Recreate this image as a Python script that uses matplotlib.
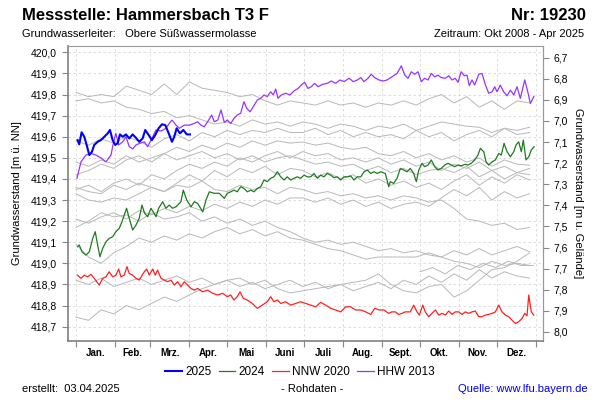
import numpy as np
import matplotlib
matplotlib.use("Agg")
import matplotlib.pyplot as plt
from matplotlib.ticker import FuncFormatter

plt.rcParams["font.family"] = ["Liberation Sans", "DejaVu Sans"]

# Geländehöhe (m ü. NN) für die rechte Achse
GOK = 426.675

months = ["Jan.", "Feb.", "Mrz.", "Apr.", "Mai", "Juni", "Juli", "Aug.", "Sept.", "Okt.", "Nov.", "Dez."]
month_start = [0, 31, 59, 90, 120, 151, 181, 212, 243, 273, 304, 334, 365]

# 2025 (Tag im Jahr, Wasserstand)
d2025 = [1.3, 2.6, 4.5, 6.6, 8.5, 10.6, 12.7, 14.5, 17.2, 19.8, 22.5, 25.2, 27.0, 29.1, 31.2, 33.1,
         34.9, 37.1, 39.7, 42.3, 45.0, 47.6, 50.2, 52.9, 55.0, 57.7, 60.3, 62.9, 65.6, 68.3, 70.9,
         73.6, 76.2, 78.0, 79.9, 82.5, 85.2, 87.9, 90.5]
v2025 = [419.584, 419.564, 419.621, 419.600, 419.561, 419.513, 419.529, 419.561, 419.576, 419.584,
         419.600, 419.616, 419.632, 419.584, 419.561, 419.569, 419.611, 419.600, 419.611, 419.592,
         419.611, 419.595, 419.576, 419.592, 419.632, 419.608, 419.584, 419.608, 419.640, 419.659,
         419.655, 419.616, 419.576, 419.600, 419.640, 419.616, 419.632, 419.611, 419.611]

# 2024
d2024 = [1.3, 2.6, 4.8, 7.9, 10.6, 13.3, 15.3, 17.2, 19.0, 21.2, 23.8, 26.4, 29.1, 31.7, 34.4, 36.5,
         38.3, 40.2, 42.3, 45.0, 47.6, 50.2, 52.4, 54.5, 56.9, 59.5, 61.3, 63.5, 65.6, 68.8, 71.4,
         74.0, 76.7, 79.4, 83.3, 85.2, 87.9, 91.3, 93.9, 96.6, 100.6, 103.2, 105.8, 109.8, 113.7,
         117.7, 120.1, 122.8, 125.4, 128.0, 130.7, 133.3, 136.0, 138.7, 141.3, 143.9, 146.6, 149.2,
         151.8, 154.5, 157.1, 159.8, 162.5, 165.1, 167.7, 170.4, 173.0, 175.6, 178.3, 181.0, 183.6,
         186.3, 188.9, 191.5, 194.2, 196.8, 199.4, 202.1, 204.8, 207.4, 210.1, 212.7, 215.3, 218.0,
         220.6, 223.3, 226.0, 228.6, 231.2, 233.9, 236.5, 239.1, 241.8, 245.5, 248.2, 249.4, 252.1,
         254.8, 257.4, 260.1, 262.7, 265.3, 268.0, 270.1, 272.0, 274.6, 276.7, 279.4, 282.0, 284.7,
         287.3, 289.9, 292.6, 295.2, 297.9, 300.6, 303.2, 305.8, 308.5, 311.1, 313.7, 316.4, 319.0,
         320.9, 323.6, 325.4, 327.5, 330.2, 332.8, 335.5, 337.5, 339.7, 342.1, 344.7, 347.4, 349.2,
         351.3, 353.4, 355.0, 357.1, 359.3, 361.3, 363.5]
v2024 = [419.079, 419.087, 419.055, 419.039, 419.055, 419.118, 419.150, 419.087, 419.031, 419.071,
         419.102, 419.118, 419.126, 419.150, 419.166, 419.197, 419.229, 419.261, 419.213, 419.158,
         419.181, 419.213, 419.276, 419.237, 419.221, 419.261, 419.244, 419.221, 419.261, 419.292,
         419.261, 419.276, 419.261, 419.268, 419.292, 419.347, 419.300, 419.268, 419.292, 419.284,
         419.244, 419.300, 419.339, 419.332, 419.332, 419.308, 419.332, 419.339, 419.347, 419.339,
         419.363, 419.355, 419.339, 419.347, 419.339, 419.355, 419.363, 419.395, 419.387, 419.403,
         419.410, 419.434, 419.410, 419.395, 419.410, 419.395, 419.403, 419.410, 419.403, 419.418,
         419.410, 419.410, 419.426, 419.403, 419.418, 419.410, 419.426, 419.418, 419.406, 419.410,
         419.395, 419.410, 419.410, 419.414, 419.395, 419.410, 419.410, 419.434, 419.442, 419.426,
         419.434, 419.426, 419.434, 419.426, 419.363, 419.387, 419.379, 419.403, 419.450, 419.442,
         419.434, 419.450, 419.426, 419.387, 419.442, 419.474, 419.458, 419.466, 419.490, 419.458,
         419.442, 419.450, 419.466, 419.474, 419.466, 419.458, 419.466, 419.462, 419.469, 419.466,
         419.474, 419.490, 419.513, 419.545, 419.529, 419.481, 419.466, 419.481, 419.490, 419.521,
         419.513, 419.569, 419.529, 419.505, 419.529, 419.561, 419.576, 419.529, 419.584, 419.490,
         419.505, 419.537, 419.553]

# NNW 2020
d2020 = [1.3, 4.0, 6.6, 9.3, 11.9, 14.5, 18.5, 21.2, 23.8, 26.4, 29.1, 31.7, 33.9, 35.7, 38.3, 40.5,
         42.3, 45.0, 47.6, 50.2, 54.2, 56.1, 58.2, 60.9, 62.9, 64.8, 67.5, 70.1, 72.8, 75.4, 78.0,
         80.7, 83.3, 86.0, 88.6, 91.3, 93.9, 96.6, 100.6, 104.5, 108.5, 112.5, 116.4, 120.1, 122.8,
         125.4, 128.0, 130.2, 132.8, 136.0, 139.9, 143.9, 147.9, 151.8, 154.5, 157.1, 159.8, 162.5,
         166.4, 170.4, 174.4, 178.3, 182.3, 186.3, 190.2, 194.2, 198.2, 202.1, 206.1, 210.1, 214.0,
         218.0, 222.0, 226.0, 229.9, 233.9, 237.1, 240.7, 244.4, 248.2, 250.8, 253.4, 256.1, 258.7,
         261.3, 265.3, 268.0, 270.6, 272.5, 275.2, 277.2, 279.9, 282.5, 285.2, 287.9, 290.5, 293.1,
         295.8, 298.4, 301.0, 303.7, 306.3, 309.0, 311.7, 314.3, 316.9, 319.6, 322.2, 324.8, 327.5,
         330.2, 332.8, 335.5, 338.1, 340.7, 343.4, 346.0, 348.7, 351.3, 354.0, 356.1, 357.9, 359.3,
         361.3, 363.3]
v2020 = [418.944, 418.929, 418.944, 418.936, 418.948, 418.929, 418.897, 418.929, 418.936, 418.960,
         418.936, 418.944, 418.973, 418.936, 418.944, 418.984, 418.952, 418.944, 418.929, 418.921,
         418.960, 418.973, 418.944, 418.973, 418.944, 418.968, 418.929, 418.921, 418.913, 418.921,
         418.897, 418.913, 418.889, 418.913, 418.897, 418.881, 418.873, 418.881, 418.865, 418.873,
         418.858, 418.850, 418.858, 418.842, 418.850, 418.826, 418.842, 418.865, 418.834, 418.826,
         418.810, 418.787, 418.802, 418.818, 418.842, 418.818, 418.826, 418.810, 418.818, 418.802,
         418.810, 418.818, 418.810, 418.802, 418.794, 418.815, 418.802, 418.787, 418.779, 418.770,
         418.794, 418.794, 418.779, 418.779, 418.770, 418.758, 418.787, 418.779, 418.779, 418.763,
         418.770, 418.770, 418.758, 418.763, 418.770, 418.770, 418.802, 418.770, 418.755, 418.802,
         418.770, 418.747, 418.763, 418.779, 418.755, 418.763, 418.755, 418.774, 418.758, 418.770,
         418.770, 418.758, 418.770, 418.763, 418.770, 418.774, 418.747, 418.747, 418.755, 418.758,
         418.763, 418.770, 418.802, 418.770, 418.755, 418.747, 418.731, 418.715, 418.723, 418.739,
         418.763, 418.751, 418.850, 418.770, 418.755]

# HHW 2013
d2013 = [0.8, 4.0, 7.9, 11.9, 15.9, 19.8, 23.8, 27.8, 29.9, 31.7, 33.9, 37.1, 39.7, 42.3, 45.0, 47.6,
         50.8, 54.2, 56.9, 60.3, 63.5, 67.5, 71.4, 74.0, 76.2, 79.4, 82.0, 86.0, 89.9, 93.9, 96.6,
         99.2, 101.8, 104.5, 107.7, 109.8, 112.5, 115.1, 117.7, 120.1, 122.8, 125.4, 128.0, 130.7,
         133.3, 135.5, 138.1, 140.7, 143.9, 146.6, 149.2, 151.8, 154.5, 156.6, 158.5, 160.3, 162.9,
         166.4, 169.8, 173.0, 176.2, 178.8, 181.5, 184.1, 186.7, 189.4, 192.1, 195.5, 199.4, 202.6,
         206.1, 209.5, 212.7, 216.7, 220.1, 223.3, 226.0, 228.6, 231.7, 234.4, 237.1, 240.5, 243.9,
         246.8, 250.8, 254.8, 258.2, 260.9, 263.5, 266.1, 268.8, 271.4, 274.0, 276.7, 279.4, 282.0,
         284.7, 287.3, 289.9, 293.1, 295.8, 298.4, 301.0, 303.2, 305.6, 308.2, 310.3, 312.1, 314.3,
         316.4, 319.6, 322.2, 324.8, 327.5, 330.2, 332.3, 334.1, 336.7, 339.4, 342.1, 344.7, 347.4,
         350.0, 352.6, 356.1, 358.5, 360.6, 363.3]
v2013 = [419.403, 419.481, 419.513, 419.521, 419.513, 419.500, 419.481, 419.513, 419.576, 419.616,
         419.561, 419.576, 419.600, 419.553, 419.542, 419.561, 419.569, 419.576, 419.553, 419.592,
         419.632, 419.627, 419.640, 419.663, 419.679, 419.655, 419.640, 419.655, 419.655, 419.663,
         419.671, 419.655, 419.647, 419.671, 419.703, 419.671, 419.679, 419.727, 419.668, 419.679,
         419.663, 419.687, 419.703, 419.711, 419.766, 419.735, 419.718, 419.742, 419.774, 419.782,
         419.798, 419.790, 419.813, 419.798, 419.826, 419.782, 419.798, 419.806, 419.798, 419.817,
         419.829, 419.845, 419.858, 419.829, 419.837, 419.853, 419.837, 419.848, 419.853, 419.864,
         419.853, 419.869, 419.861, 419.877, 419.861, 419.869, 419.880, 419.861, 419.877, 419.896,
         419.880, 419.869, 419.864, 419.869, 419.884, 419.900, 419.936, 419.892, 419.877, 419.908,
         419.896, 419.908, 419.861, 419.877, 419.869, 419.900, 419.884, 419.892, 419.880, 419.877,
         419.889, 419.869, 419.877, 419.858, 419.908, 419.889, 419.892, 419.842, 419.869, 419.845,
         419.896, 419.900, 419.848, 419.806, 419.813, 419.837, 419.813, 419.845, 419.813, 419.794,
         419.821, 419.798, 419.837, 419.782, 419.869, 419.813, 419.758, 419.790]

# übrige Jahre (grau), alle 10 Tage
gray_days = [0, 10, 20, 30, 40, 50, 60, 70, 80, 90, 100, 110, 120, 130, 140, 150, 160, 170, 180,
             190, 200, 210, 220, 230, 240, 250, 260, 270, 280, 290, 300, 310, 320, 330, 340, 350, 360]
gray_a = [419.81, 419.79, 419.80, 419.79, 419.84, 419.82, 419.80, 419.85, 419.80, 419.86, 419.83, 419.82,
          419.81, 419.79, 419.80, 419.77, 419.75, 419.77, 419.76, 419.75, 419.77, 419.75, 419.76, 419.74,
          419.76, 419.75, 419.77, 419.75, 419.78, 419.80, 419.76, 419.79, 419.74, 419.77, 419.73, 419.77, 419.76]
gray_b = [419.77, 419.78, 419.76, 419.77, 419.74, 419.73, 419.71, 419.72, 419.69, 419.70, 419.68, 419.66,
          419.67, 419.65, 419.68, 419.66, 419.67, 419.65, 419.67, 419.66, 419.64, 419.66, 419.65, 419.63,
          419.65, 419.64, 419.66, 419.63, 419.65, 419.67, 419.66, 419.65, 419.645, 419.62, 419.64, 419.63, 419.645]
gray_c = [419.58, 419.56, 419.59, 419.57, 419.60, 419.58, 419.55, 419.59, 419.61, 419.58, 419.62, 419.60,
          419.63, 419.61, 419.63, 419.62, 419.64, 419.62, 419.62, 419.64, 419.61, 419.63, 419.60, 419.62,
          419.60, 419.61, 419.59, 419.63, 419.60, 419.62, 419.58, 419.61, 419.63, 419.60, 419.64, 419.61, 419.62]
gray_d = [419.42, 419.44, 419.47, 419.45, 419.49, 419.51, 419.48, 419.52, 419.55, 419.53, 419.56, 419.54,
          419.57, 419.55, 419.58, 419.56, 419.58, 419.57, 419.575, 419.56, 419.57, 419.55, 419.54, 419.55,
          419.52, 419.51, 419.53, 419.50, 419.52, 419.49, 419.51, 419.48, 419.50, 419.46, 419.49, 419.47, 419.465]
gray_e = [419.35, 419.37, 419.34, 419.38, 419.40, 419.37, 419.42, 419.40, 419.44, 419.47, 419.45, 419.48,
          419.46, 419.50, 419.48, 419.51, 419.53, 419.50, 419.53, 419.51, 419.52, 419.49, 419.50, 419.48,
          419.50, 419.47, 419.49, 419.46, 419.48, 419.44, 419.47, 419.45, 419.48, 419.44, 419.46, 419.43, 419.45]
gray_f = [419.33, 419.30, 419.29, 419.31, 419.30, 419.33, 419.36, 419.34, 419.38, 419.42, 419.39, 419.44,
          419.41, 419.45, 419.43, 419.46, 419.42, 419.45, 419.44, 419.41, 419.43, 419.40, 419.42, 419.38,
          419.40, 419.37, 419.39, 419.36, 419.38, 419.35, 419.39, 419.42, 419.37, 419.41, 419.38, 419.42, 419.395]
gray_g = [419.17, 419.20, 419.24, 419.22, 419.23, 419.20, 419.24, 419.21, 419.22, 419.24, 419.20, 419.22,
          419.19, 419.21, 419.18, 419.20, 419.17, 419.15, 419.12, 419.10, 419.11, 419.09, 419.10, 419.08,
          419.06, 419.07, 419.05, 419.06, 419.04, 419.03, 419.01, 419.00, 418.98, 419.01, 418.99, 419.00, 418.99]
gray_h = [419.09, 419.03, 419.00, 419.05, 419.08, 419.12, 419.10, 419.13, 419.11, 419.14, 419.12, 419.15,
          419.17, 419.14, 419.16, 419.13, 419.15, 419.12, 419.11, 419.09, 419.07, 419.06, 419.04, 419.02,
          419.03, 419.03, 419.03, 419.03, 419.05, 419.03, 419.06, 419.04, 419.07, 419.04, 419.06, 419.08, 419.055]
gray_i = [418.92, 418.90, 418.93, 418.89, 418.91, 418.93, 418.90, 418.92, 418.94, 418.91, 418.93, 418.90,
          418.92, 418.89, 418.91, 418.88, 418.90, 418.92, 418.89, 418.91, 418.88, 418.90, 418.87, 418.89,
          418.91, 418.88, 418.92, 418.90, 418.94, 418.91, 418.95, 418.92, 418.97, 418.93, 418.96, 418.94, 418.93]
gray_j = [418.745, 418.73, 418.78, 418.76, 418.80, 418.78, 418.81, 418.84, 418.82, 418.85, 418.88, 418.90,
          418.92, 418.93, 418.90, 418.92, 418.88, 418.86, 418.87, 418.88, 418.89, 418.90, 418.91, 418.92,
          418.95, 418.90, 418.87, 418.86, 418.89, 418.90, 418.84, 418.87, 418.92, 418.97, 418.98, 419.01, 419.05]
gray_k = [419.36, 419.34, 419.33, 419.37, 419.35, 419.38, 419.36, 419.34, 419.37, 419.36, 419.39, 419.35,
          419.34, 419.37, 419.35, 419.36, 419.33, 419.36, 419.35, 419.33, 419.34, 419.32, 419.33, 419.31,
          419.32, 419.30, 419.32, 419.31, 419.29, 419.30, 419.26, 419.21, 419.20, 419.18, 419.19, 419.16, 419.17]
gray_l = [419.21, 419.19, 419.22, 419.24, 419.21, 419.25, 419.23, 419.26, 419.24, 419.27, 419.25, 419.28,
          419.26, 419.29, 419.27, 419.30, 419.28, 419.31, 419.31, 419.29, 419.31, 419.28, 419.30, 419.27,
          419.29, 419.26, 419.28, 419.29, 419.27, 419.31, 419.35, 419.32, 419.36, 419.30, 419.34, 419.31, 419.33]
gray_m = [419.48, 419.46, 419.49, 419.47, 419.51, 419.48, 419.50, 419.52, 419.49, 419.51, 419.53, 419.50,
          419.52, 419.49, 419.51, 419.48, 419.50, 419.51, 419.49, 419.47, 419.48, 419.46, 419.47, 419.44,
          419.46, 419.43, 419.45, 419.42, 419.44, 419.45, 419.43, 419.46, 419.41, 419.44, 419.40, 419.43, 419.42]
# 2008 (erst ab Oktober)
d2008 = [273, 283, 293, 303, 313, 323, 333, 343, 353, 363]
v2008 = [418.96, 418.98, 418.95, 418.99, 418.97, 419.00, 418.98, 419.01, 418.99, 418.99]

gray_lines = [gray_a, gray_b, gray_c, gray_d, gray_e, gray_f, gray_g, gray_h,
              gray_i, gray_j, gray_k, gray_l, gray_m]

fig = plt.figure(figsize=(6, 4), dpi=100)
ax = fig.add_axes([0.1125, 0.1475, 0.7925, 0.7375])

gcol = "#b8b8b8"
for g in gray_lines:
    ax.plot(gray_days, g, color=gcol, lw=0.7, zorder=2)
ax.plot(d2008, v2008, color=gcol, lw=0.7, zorder=2)

ax.plot(d2013, v2013, color="#9933ff", lw=0.9, zorder=3, label="HHW 2013")
ax.plot(d2020, v2020, color="#ff2020", lw=0.9, zorder=3, label="NNW 2020")
ax.plot(d2024, v2024, color="#1e7b1e", lw=0.9, zorder=4, label="2024")
ax.plot(d2025, v2025, color="#0000ff", lw=1.5, zorder=5, label="2025")

ax.set_xlim(-6.7, 370.6)
ax.set_ylim(418.632, 420.03)

ax.set_xticks(month_start)
ax.set_xticklabels([])
mids = [(month_start[i] + month_start[i + 1]) / 2 for i in range(12)]
ax.set_xticks(mids, minor=True)
ax.set_xticklabels(months, minor=True, fontsize=7, fontweight="bold")
ax.tick_params(axis="x", which="major", length=4, color="#888888")
ax.tick_params(axis="x", which="minor", length=0, pad=5)

ax.set_yticks(np.arange(418.7, 420.05, 0.1))
ax.yaxis.set_major_formatter(FuncFormatter(lambda v, p: f"{v:.1f}".replace(".", ",")))
ax.tick_params(axis="y", labelsize=7.5, length=4, color="#888888")

ax.grid(True, which="major", ls=(0, (3, 3)), color="#d8d8d8", lw=0.6)
for s in ax.spines.values():
    s.set_color("#999999")
ax.spines["left"].set_color("#808080")
ax.spines["left"].set_linewidth(1.2)
ax.spines["bottom"].set_color("#808080")
ax.spines["bottom"].set_linewidth(1.2)

sec = ax.secondary_yaxis("right", functions=(lambda v: GOK - v, lambda d: GOK - d))
sec.set_yticks(np.arange(6.7, 8.05, 0.1))
sec.yaxis.set_major_formatter(FuncFormatter(lambda v, p: f"{v:.1f}".replace(".", ",")))
sec.tick_params(labelsize=7.5, length=4, color="#888888")
sec.spines["right"].set_color("#999999")
sec.set_ylabel("Grundwasserstand [m u. Gelände]", fontsize=8, rotation=-90, labelpad=11)

ax.set_ylabel("Grundwasserstand [m ü. NN]", fontsize=8, labelpad=6)

fig.text(0.037, 0.962, "Messstelle: Hammersbach T3 F", fontsize=12, fontweight="bold", va="center")
fig.text(0.977, 0.962, "Nr: 19230", fontsize=12, fontweight="bold", va="center", ha="right")
fig.text(0.037, 0.915, "Grundwasserleiter:   Obere Süßwassermolasse", fontsize=8, va="center")
fig.text(0.973, 0.915, "Zeitraum: Okt 2008 - Apr 2025", fontsize=8, va="center", ha="right")

h, l = ax.get_legend_handles_labels()
order = [3, 2, 1, 0]
fig.legend([h[i] for i in order], [l[i] for i in order], loc="center", bbox_to_anchor=(0.5, 0.07),
           ncol=4, frameon=False, fontsize=8.5, handlelength=1.4, handletextpad=0.3, columnspacing=0.6)

fig.text(0.037, 0.027, "erstellt:  03.04.2025", fontsize=8, va="center")
fig.text(0.52, 0.027, "- Rohdaten -", fontsize=8, va="center", ha="center")
fig.text(0.98, 0.027, "Quelle: www.lfu.bayern.de", fontsize=8, va="center", ha="right", color="#0000ee")

fig.savefig("out.png", dpi=100)
